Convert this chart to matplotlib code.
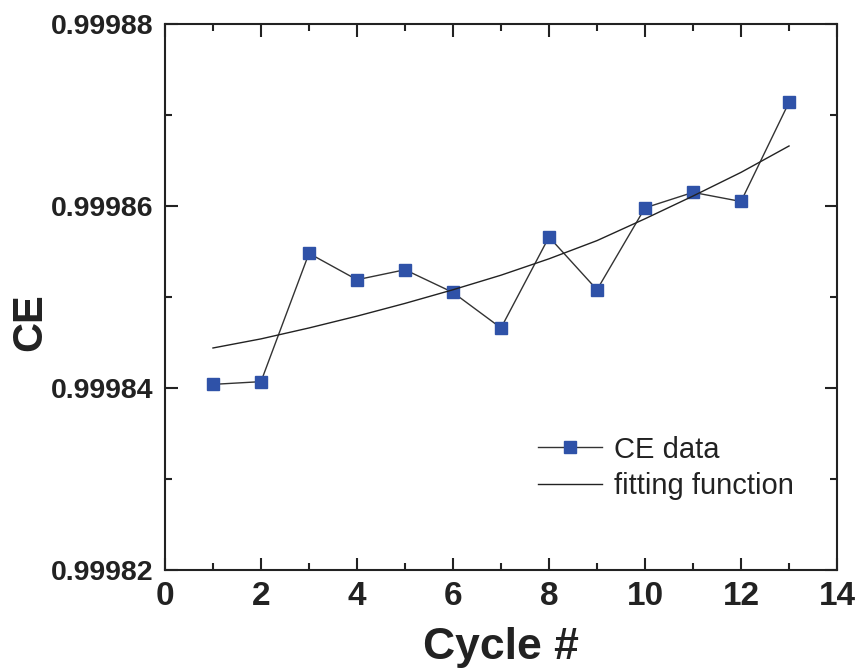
import matplotlib
matplotlib.use("Agg")
import matplotlib.pyplot as plt
from matplotlib.ticker import MultipleLocator, FormatStrFormatter

# data
cycles = [1, 2, 3, 4, 5, 6, 7, 8, 9, 10, 11, 12, 13]
ce_data = [0.9998404, 0.9998407, 0.9998548, 0.9998519, 0.9998530, 0.9998505,
           0.9998466, 0.9998566, 0.9998508, 0.9998598, 0.9998615, 0.9998605,
           0.9998714]
fit_values = [0.9998444, 0.9998454, 0.9998466, 0.9998479, 0.9998493, 0.9998508,
              0.9998524, 0.9998542, 0.9998562, 0.9998586, 0.9998611, 0.9998637,
              0.9998666]

plt.rcParams['font.family'] = ['Liberation Sans', 'DejaVu Sans']
ink = '#222222'

fig = plt.figure(figsize=(8.57, 6.68), dpi=100)
ax = fig.add_axes([0.1925, 0.1467, 0.7842, 0.8173])

ax.plot(cycles, ce_data, color='#333333', lw=1.0, marker='s', ms=9,
        mfc='#2f52a8', mec='#2f52a8', label='CE data')
ax.plot(cycles, fit_values, color=ink, lw=1.0, label='fitting function')

ax.set_xlim(0, 14)
ax.set_ylim(0.99982, 0.99988)
ax.xaxis.set_major_locator(MultipleLocator(2))
ax.xaxis.set_minor_locator(MultipleLocator(1))
ax.yaxis.set_major_locator(MultipleLocator(0.00002))
ax.yaxis.set_minor_locator(MultipleLocator(0.00001))
ax.yaxis.set_major_formatter(FormatStrFormatter('%.5f'))

ax.tick_params(which='both', direction='in', top=True, right=True, width=1.5, color=ink)
ax.tick_params(which='major', length=9)
ax.tick_params(which='minor', length=5)
ax.tick_params(axis='x', pad=8)
ax.tick_params(axis='y', pad=8)
for s in ax.spines.values():
    s.set_linewidth(1.5)
    s.set_color(ink)

for lbl in ax.get_yticklabels():
    lbl.set_fontsize(20.5)
    lbl.set_fontweight('bold')
    lbl.set_color(ink)
for lbl in ax.get_xticklabels():
    lbl.set_fontsize(24)
    lbl.set_fontweight('bold')
    lbl.set_color(ink)

ax.set_xlabel('Cycle #', fontsize=32, fontweight='bold', color=ink)
ax.xaxis.set_label_coords(0.5, -0.105)
ax.set_ylabel('CE', fontsize=30, fontweight='bold', color=ink)
ax.yaxis.set_label_coords(-0.170, 0.454)

leg = ax.legend(loc='upper left', bbox_to_anchor=(0.555, 0.246), frameon=False,
                fontsize=21, handlelength=2.2, handletextpad=0.4, labelspacing=0.3,
                borderpad=0, borderaxespad=0)
for t in leg.get_texts():
    t.set_color(ink)

fig.savefig('out.png', dpi=100)
